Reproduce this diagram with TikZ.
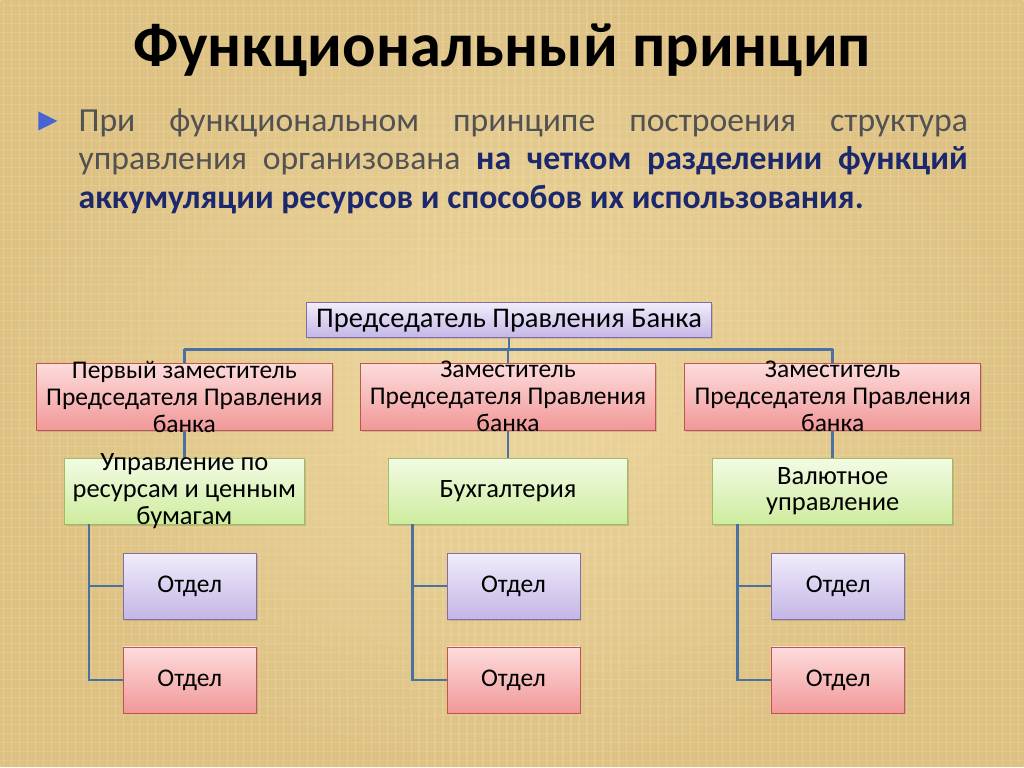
\documentclass[tikz,border=0pt]{standalone}
\usepackage{fontspec}
\setmainfont{Carlito}
\usetikzlibrary{shadows}

\definecolor{paperlight}{RGB}{236,214,158}
\definecolor{paperdark}{RGB}{222,194,132}
\definecolor{paperfibre}{RGB}{245,228,185}
\definecolor{linkblue}{RGB}{74,114,160}
\definecolor{bodygray}{RGB}{82,82,82}
\definecolor{navy}{RGB}{28,40,110}
\definecolor{bulletblue}{RGB}{70,100,210}
\definecolor{redtop}{RGB}{253,220,220}
\definecolor{redbot}{RGB}{241,152,152}
\definecolor{redline}{RGB}{192,84,78}
\definecolor{greentop}{RGB}{243,251,228}
\definecolor{greenbot}{RGB}{206,236,158}
\definecolor{greenline}{RGB}{158,188,98}
\definecolor{lilactop}{RGB}{241,236,251}
\definecolor{lilacbot}{RGB}{196,182,230}
\definecolor{lilacline}{RGB}{130,110,165}

\tikzset{
  box/.style={inner sep=0, line width=0.8pt, minimum height=66,
    drop shadow={opacity=0.3, shadow xshift=1.5pt, shadow yshift=-1.5pt}},
  redbox/.style={box, draw=redline, top color=redtop, bottom color=redbot},
  greenbox/.style={box, draw=greenline, top color=greentop, bottom color=greenbot},
  lilacbox/.style={box, draw=lilacline, top color=lilactop, bottom color=lilacbot},
  link/.style={draw=linkblue, line width=2.6pt},
  lbl/.style={align=center, inner sep=0, font=\fontsize{25.5}{27}\selectfont},
  bodytext/.style={anchor=base west, inner sep=0, font=\fontsize{33.7}{38}\selectfont}
}

\begin{document}
\begin{tikzpicture}[x=1pt, y=-1pt]
  % Paper background
  \shade[inner color=paperlight, outer color=paperdark] (0,0) rectangle (1024,767);
  \foreach \x in {3,11,...,1024}
    \draw[paperfibre, opacity=0.25, line width=1.2pt] (\x,0) -- (\x,767);
  \foreach \y in {5,14,...,767}
    \draw[paperfibre, opacity=0.2, line width=1pt] (0,\y) -- (1024,\y);
  \useasboundingbox (0,0) rectangle (1024,767);

  % Title
  \node[anchor=base, inner sep=0, font=\fontsize{62.5}{62.5}\selectfont\bfseries] (title) at (502,66) {Функциональный принцип};

  % Bullet and text
  \fill[bulletblue] (38,111) -- (57,120.5) -- (38,130) -- cycle;
  \node[bodytext, text=bodygray] (line1) at (78,131) {\makebox[890pt][s]{При функциональном принципе построения структура}};
  \node[bodytext] (line2) at (78,169.5) {\makebox[890pt][s]{\color{bodygray}управления организована \color{navy}\bfseries на четком разделении функций}};
  \node[bodytext, text=navy, font=\fontsize{33.7}{38}\selectfont\bfseries] (line3) at (78,208) {аккумуляции ресурсов и способов их использования.};

  % Boxes
  \node[lilacbox, minimum width=406, minimum height=35] (chair) at (509,320) {};
  \foreach \n/\x in {1/184, 2/508, 3/833} {
    \node[redbox, minimum width=296, minimum height=67] (dep\n) at (\x,396.5) {};
    \node[greenbox, minimum width=240] (dept\n) at (\x,491) {};
    \node[lilacbox, minimum width=133] (secA\n) at (\x+5.5,586) {};
    \node[redbox, minimum width=133] (secB\n) at (\x+5.5,680) {};
  }

  % Connectors
  \coordinate (bus) at (508,349);
  \draw[link] (chair.south) -- (chair.south |- bus);
  \draw[link] (dep1.north |- bus) -- (dep3.north |- bus);
  \foreach \n in {1,2,3} {
    \draw[link] (dep\n.north |- bus) -- (dep\n.north);
    \draw[link] (dep\n.south) -- (dept\n.north);
    \coordinate (spine\n) at ([xshift=25pt]dept\n.south west);
    \draw[link] (spine\n) |- (secB\n.west);
    \draw[link] (secA\n.west -| spine\n) -- (secA\n.west);
  }

  % Labels
  \node[lbl, font=\fontsize{28.5}{30}\selectfont] (chairt) at (chair) {Председатель Правления Банка};
  \node[lbl] (dep1t) at (dep1) {Первый заместитель\\Председателя Правления\\банка};
  \node[lbl] (dep2t) at (dep2) {Заместитель\\Председателя Правления\\банка};
  \node[lbl] (dep3t) at (dep3) {Заместитель\\Председателя Правления\\банка};
  \node[lbl, font=\fontsize{26.5}{27}\selectfont] (dept1t) at (dept1) {Управление по\\ресурсам и ценным\\бумагам};
  \node[lbl, font=\fontsize{26.5}{27}\selectfont] (dept2t) at (dept2) {Бухгалтерия};
  \node[lbl, font=\fontsize{26.5}{27}\selectfont] (dept3t) at (dept3) {Валютное\\управление};
  \foreach \n in {1,2,3} {
    \node[lbl, font=\fontsize{25.5}{27}\selectfont] (secAt\n) at (secA\n) {Отдел};
    \node[lbl, font=\fontsize{25.5}{27}\selectfont] (secBt\n) at (secB\n) {Отдел};
  }
\end{tikzpicture}
\end{document}
